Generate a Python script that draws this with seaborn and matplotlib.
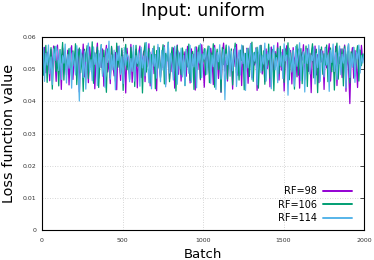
import numpy as np
import pandas as pd
import matplotlib

matplotlib.use('Agg')

import matplotlib.pyplot as plt
import seaborn as sns

sns.set_style("white")
plt.rcParams['font.family'] = ['DejaVu Sans']
plt.rcParams['text.color'] = 'black'
plt.rcParams['axes.labelcolor'] = 'black'

# batch index of every sample (one sample every 8 batches)
batch = list(range(0, 2001, 8))

loss_rf98 = [
    0.0545, 0.0512, 0.0568, 0.0489, 0.0553, 0.0531, 0.0464, 0.0561, 0.0497, 0.0572,
    0.0538, 0.0462, 0.0575, 0.0508, 0.0541, 0.0437, 0.0566, 0.0524, 0.0549, 0.0482,
    0.0559, 0.0451, 0.0547, 0.0573, 0.0468, 0.0531, 0.0556, 0.0495, 0.0562, 0.0429,
    0.0551, 0.0512, 0.0578, 0.0476, 0.0543, 0.0564, 0.0458, 0.0569, 0.0521, 0.0488,
    0.0556, 0.0439, 0.0534, 0.0581, 0.0472, 0.0548, 0.0505, 0.0563, 0.0447, 0.0539,
    0.0574, 0.0491, 0.0526, 0.0455, 0.0567, 0.0514, 0.0479, 0.0552, 0.0436, 0.0571,
    0.0529, 0.0465, 0.0558, 0.0501, 0.0544, 0.0426, 0.0565, 0.0518, 0.0483, 0.0577,
    0.0459, 0.0536, 0.0496, 0.0562, 0.0442, 0.0549, 0.0572, 0.0474, 0.0527, 0.0556,
    0.0461, 0.0541, 0.0509, 0.0579, 0.0448, 0.0533, 0.0564, 0.0486, 0.0545, 0.0433,
    0.0568, 0.0515, 0.0477, 0.0553, 0.0504, 0.0573, 0.0453, 0.0537, 0.0561, 0.0469,
    0.0546, 0.0492, 0.0566, 0.0441, 0.0528, 0.0575, 0.0484, 0.0551, 0.0463, 0.0559,
    0.0522, 0.0554, 0.0478, 0.0571, 0.0535, 0.0457, 0.0563, 0.0511, 0.0547, 0.0435,
    0.0569, 0.0499, 0.0554, 0.0467, 0.0576, 0.0525, 0.0444, 0.0558, 0.0517, 0.0548,
    0.0487, 0.0565, 0.0532, 0.0452, 0.0574, 0.0506, 0.0543, 0.0471, 0.0559, 0.0428,
    0.0552, 0.0581, 0.0494, 0.0537, 0.0463, 0.0568, 0.0519, 0.0546, 0.0438, 0.0562,
    0.0508, 0.0577, 0.0481, 0.0533, 0.0556, 0.0449, 0.0571, 0.0524, 0.0492, 0.0565,
    0.0456, 0.0542, 0.0579, 0.0473, 0.0548, 0.0513, 0.0566, 0.0434, 0.0551, 0.0527,
    0.0574, 0.0485, 0.0539, 0.0461, 0.0563, 0.0502, 0.0557, 0.0445, 0.0569, 0.0531,
    0.0478, 0.0555, 0.0519, 0.0582, 0.0466, 0.0544, 0.0497, 0.0561, 0.0432, 0.0548,
    0.0573, 0.0489, 0.0535, 0.0558, 0.0454, 0.0567, 0.0516, 0.0543, 0.0476, 0.0562,
    0.0441, 0.0553, 0.0528, 0.0576, 0.0468, 0.0539, 0.0564, 0.0493, 0.0549, 0.0427,
    0.0566, 0.0511, 0.0572, 0.0482, 0.0545, 0.0458, 0.0561, 0.0523, 0.0556, 0.0437,
    0.0568, 0.0504, 0.0547, 0.0579, 0.0463, 0.0534, 0.0557, 0.0486, 0.0571, 0.0449,
    0.0542, 0.0518, 0.0563, 0.0474, 0.0552, 0.0575, 0.0431, 0.0546, 0.0509, 0.0393,
    0.0536, 0.0567, 0.0472, 0.0558, 0.0521, 0.0443, 0.0561, 0.0498, 0.0574, 0.0529,
    0.0545,
]
loss_rf106 = [
    0.0558, 0.0481, 0.0536, 0.0574, 0.0459, 0.0549, 0.0512, 0.0567, 0.0438, 0.0543,
    0.0571, 0.0493, 0.0527, 0.0448, 0.0561, 0.0519, 0.0583, 0.0466, 0.0552, 0.0501,
    0.0537, 0.0564, 0.0529, 0.0476, 0.0557, 0.0513, 0.0579, 0.0452, 0.0538, 0.0566,
    0.0489, 0.0547, 0.0431, 0.0562, 0.0524, 0.0573, 0.0471, 0.0541, 0.0508, 0.0585,
    0.0456, 0.0551, 0.0518, 0.0569, 0.0443, 0.0532, 0.0576, 0.0485, 0.0559, 0.0497,
    0.0428, 0.0563, 0.0539, 0.0474, 0.0571, 0.0515, 0.0546, 0.0462, 0.0581, 0.0506,
    0.0553, 0.0487, 0.0565, 0.0434, 0.0542, 0.0577, 0.0498, 0.0531, 0.0468, 0.0568,
    0.0521, 0.0555, 0.0446, 0.0574, 0.0509, 0.0537, 0.0479, 0.0561, 0.0426, 0.0548,
    0.0582, 0.0491, 0.0534, 0.0564, 0.0457, 0.0545, 0.0516, 0.0572, 0.0439, 0.0558,
    0.0503, 0.0567, 0.0473, 0.0539, 0.0576, 0.0454, 0.0549, 0.0525, 0.0584, 0.0461,
    0.0533, 0.0568, 0.0494, 0.0552, 0.0432, 0.0573, 0.0511, 0.0547, 0.0483, 0.0566,
    0.0528, 0.0449, 0.0561, 0.0507, 0.0578, 0.0465, 0.0542, 0.0555, 0.0437, 0.0569,
    0.0496, 0.0553, 0.0574, 0.0471, 0.0546, 0.0523, 0.0564, 0.0482, 0.0539, 0.0572,
    0.0458, 0.0551, 0.0517, 0.0579, 0.0444, 0.0536, 0.0562, 0.0499, 0.0548, 0.0429,
    0.0567, 0.0514, 0.0541, 0.0575, 0.0469, 0.0556, 0.0502, 0.0563, 0.0451, 0.0544,
    0.0581, 0.0488, 0.0532, 0.0466, 0.0559, 0.0527, 0.0573, 0.0436, 0.0549, 0.0506,
    0.0565, 0.0477, 0.0543, 0.0584, 0.0462, 0.0552, 0.0519, 0.0568, 0.0441, 0.0538,
    0.0574, 0.0495, 0.0557, 0.0453, 0.0546, 0.0512, 0.0578, 0.0472, 0.0535, 0.0561,
    0.0433, 0.0549, 0.0524, 0.0566, 0.0486, 0.0571, 0.0508, 0.0542, 0.0459, 0.0563,
    0.0529, 0.0582, 0.0467, 0.0551, 0.0497, 0.0558, 0.0438, 0.0547, 0.0576, 0.0481,
    0.0539, 0.0564, 0.0455, 0.0553, 0.0518, 0.0572, 0.0446, 0.0561, 0.0505, 0.0544,
    0.0579, 0.0473, 0.0537, 0.0562, 0.0427, 0.0555, 0.0521, 0.0569, 0.0484, 0.0548,
    0.0513, 0.0575, 0.0461, 0.0543, 0.0566, 0.0492, 0.0557, 0.0435, 0.0552, 0.0581,
    0.0469, 0.0538, 0.0516, 0.0563, 0.0448, 0.0571, 0.0502, 0.0546, 0.0577, 0.0457,
    0.0554, 0.0526, 0.0568, 0.0479, 0.0541, 0.0573, 0.0463, 0.0559, 0.0511, 0.0547,
    0.0534,
]
loss_rf114 = [
    0.0531, 0.0567, 0.0462, 0.0549, 0.0513, 0.0575, 0.0486, 0.0538, 0.0452, 0.0563,
    0.0527, 0.0571, 0.0554, 0.0496, 0.0558, 0.0468, 0.0542, 0.0519, 0.0578, 0.0457,
    0.0545, 0.0503, 0.0566, 0.0441, 0.0552, 0.0524, 0.0482, 0.0573, 0.0511, 0.0401,
    0.0561, 0.0534, 0.0474, 0.0556, 0.0438, 0.0548, 0.0581, 0.0492, 0.0529, 0.0464,
    0.0569, 0.0515, 0.0547, 0.0449, 0.0558, 0.0506, 0.0576, 0.0478, 0.0536, 0.0443,
    0.0563, 0.0521, 0.0587, 0.0469, 0.0544, 0.0498, 0.0559, 0.0436, 0.0551, 0.0527,
    0.0572, 0.0484, 0.0539, 0.0455, 0.0566, 0.0512, 0.0547, 0.0538, 0.0461, 0.0533,
    0.0493, 0.0574, 0.0463, 0.0542, 0.0518, 0.0557, 0.0447, 0.0568, 0.0504, 0.0541,
    0.0479, 0.0583, 0.0526, 0.0458, 0.0553, 0.0439, 0.0564, 0.0509, 0.0545, 0.0472,
    0.0577, 0.0522, 0.0461, 0.0558, 0.0497, 0.0569, 0.0445, 0.0537, 0.0582, 0.0488,
    0.0549, 0.0514, 0.0466, 0.0571, 0.0532, 0.0453, 0.0556, 0.0501, 0.0565, 0.0476,
    0.0543, 0.0449, 0.0562, 0.0528, 0.0487, 0.0574, 0.0459, 0.0546, 0.0507, 0.0567,
    0.0442, 0.0553, 0.0519, 0.0579, 0.0474, 0.0548, 0.0531, 0.0563, 0.0484, 0.0539,
    0.0571, 0.0456, 0.0544, 0.0508, 0.0566, 0.0437, 0.0552, 0.0523, 0.0576, 0.0469,
    0.0535, 0.0561, 0.0405, 0.0547, 0.0514, 0.0572, 0.0478, 0.0556, 0.0495, 0.0541,
    0.0568, 0.0446, 0.0533, 0.0559, 0.0482, 0.0575, 0.0517, 0.0549, 0.0434, 0.0562,
    0.0504, 0.0537, 0.0578, 0.0467, 0.0551, 0.0525, 0.0564, 0.0451, 0.0546, 0.0573,
    0.0489, 0.0542, 0.0516, 0.0581, 0.0463, 0.0555, 0.0529, 0.0567, 0.0439, 0.0548,
    0.0574, 0.0498, 0.0536, 0.0458, 0.0563, 0.0511, 0.0552, 0.0471, 0.0579, 0.0526,
    0.0544, 0.0419, 0.0565, 0.0532, 0.0491, 0.0558, 0.0447, 0.0571, 0.0509, 0.0547,
    0.0582, 0.0465, 0.0538, 0.0554, 0.0429, 0.0561, 0.0518, 0.0576, 0.0485, 0.0543,
    0.0527, 0.0569, 0.0454, 0.0549, 0.0505, 0.0573, 0.0462, 0.0557, 0.0534, 0.0476,
    0.0566, 0.0513, 0.0544, 0.0431, 0.0559, 0.0521, 0.0578, 0.0493, 0.0551, 0.0468,
    0.0537, 0.0572, 0.0483, 0.0546, 0.0519, 0.0563, 0.0442, 0.0555, 0.0579, 0.0474,
    0.0548, 0.0506, 0.0567, 0.0459, 0.0553, 0.0531, 0.0575, 0.0488, 0.0542, 0.0519,
    0.0548,
]

series_names = ["RF=98", "RF=106", "RF=114"]
series_colors = ["#9400d3", "#009e73", "#56b4e9"]

df = pd.concat([
    pd.DataFrame({"Batch": batch, "Loss": vals, "RF": name})
    for name, vals in zip(series_names, [loss_rf98, loss_rf106, loss_rf114])
])

fig = plt.figure(figsize=(3.74, 2.60), dpi=100)
ax = fig.add_axes([42 / 374, 30 / 260, 322 / 374, 193 / 260])

sns.lineplot(data=df, x="Batch", y="Loss", hue="RF",
             palette=dict(zip(series_names, series_colors)),
             linewidth=0.9, ax=ax, legend=True)

ax.set_xlim(0, 2000)
ax.set_ylim(0, 0.06)
ax.set_xticks([0, 500, 1000, 1500, 2000])
ax.set_yticks([0, 0.01, 0.02, 0.03, 0.04, 0.05, 0.06])
ax.set_yticklabels(["0", "0.01", "0.02", "0.03", "0.04", "0.05", "0.06"])
ax.tick_params(direction="in", length=3, width=0.6, labelsize=4.5,
               labelcolor="#333333", top=True, right=True, pad=4)
ax.tick_params(axis="x", pad=6)
for side in ax.spines.values():
    side.set_color("black")
    side.set_linewidth(0.8)

ax.grid(True, linestyle=(0, (1, 2)), color="#c8c8c8", linewidth=0.6)

ax.set_xlabel("Batch", fontsize=9.5, labelpad=3)
ax.set_ylabel("Loss function value", fontsize=10.4, labelpad=5)
ax.set_title("Input: uniform", fontsize=12.5, pad=15)

handles, labels = ax.get_legend_handles_labels()
leg = ax.legend(handles, labels, loc="lower right", frameon=False,
                markerfirst=False, fontsize=7, handlelength=3.0,
                handletextpad=0.6, labelspacing=0.35,
                borderaxespad=0.3, bbox_to_anchor=(0.985, 0.0))
for line in leg.get_lines():
    line.set_linewidth(1.4)

plt.savefig("out.png", dpi=100)
